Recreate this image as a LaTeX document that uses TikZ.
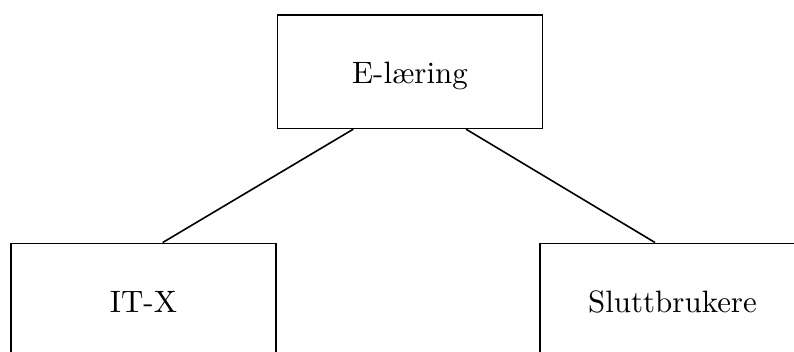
\documentclass[tikz,border=0pt]{standalone}
\usepackage{graphicx}
\usetikzlibrary{calc}
\newcommand{\stor}[1]{\scalebox{2.32}{#1}}
\tikzset{
  boks/.style={draw, line width=1.2pt, minimum width=199pt, minimum height=85pt,
    inner sep=0pt, text height=18.4pt, text depth=0pt},
  linje/.style={line width=1.2pt},
}
\begin{document}
\begin{tikzpicture}[x=0.75pt,y=0.75pt,yscale=-1,xscale=1]
\clip (0,0) rectangle (794,352);

% Boxes
\node [boks] (elaering) at (410,71.7) {\stor{E-læring}};
\node [boks] (itx) at (143.5,300) {\stor{IT-X}};
\node [boks] (brukere) at (672.5,300) {\stor{Sluttbrukere}};

% Straight Lines
\draw [linje] ($(elaering.south)+(-56.7,0)$) -- ($(itx.north)+(19.2,0)$);
\draw [linje] ($(elaering.south)+(56,0)$) -- ($(brukere.north)+(-17.5,0)$);

\end{tikzpicture}
\end{document}
